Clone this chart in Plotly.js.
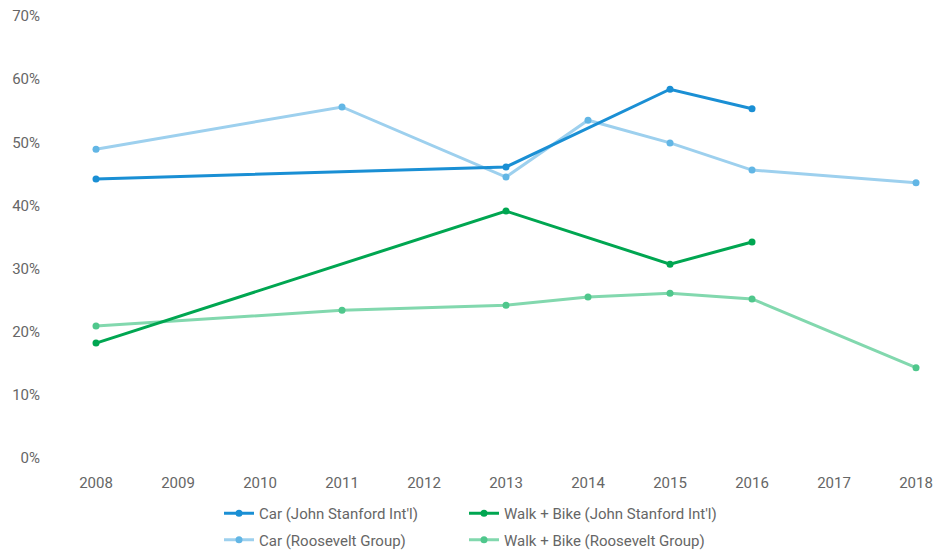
<!DOCTYPE html>
<html><head><meta charset="utf-8">
<script src="https://cdn.plot.ly/plotly-3.0.1.min.js"></script>
<style>body{margin:0;background:#fff}#chart{width:948px;height:550px}</style>
</head><body><div id="chart"></div>
<script>
const carJsiYears = [2008, 2013, 2015, 2016];
const carJsiVals = [44.2, 46.1, 58.4, 55.3];
const walkJsiYears = [2008, 2013, 2015, 2016];
const walkJsiVals = [18.2, 39.1, 30.7, 34.2];
const carRgYears = [2008, 2011, 2013, 2014, 2015, 2016, 2018];
const carRgVals = [48.9, 55.6, 44.5, 53.5, 49.9, 45.6, 43.6];
const walkRgYears = [2008, 2011, 2013, 2014, 2015, 2016, 2018];
const walkRgVals = [20.9, 23.4, 24.2, 25.5, 26.1, 25.2, 14.3];
const tickYears = [2008,2009,2010,2011,2012,2013,2014,2015,2016,2017,2018];
const yTicks = [0,10,20,30,40,50,60,70];

function tr(x, y, name, color, mcolor, leg, grp, z){
  return {x:x, y:y, name:name, type:'scatter', mode:'lines+markers',
    line:{color:color, width:3}, marker:{color:mcolor, size:7},
    legend:leg, legendgroup:grp, zorder:z, hoverinfo:'skip'};
}
const data = [
  tr(carJsiYears, carJsiVals, "Car (John Stanford Int'l)", '#1a8fd4', '#1a8fd4', 'legend', 'a', 1),
  tr(walkJsiYears, walkJsiVals, "Walk + Bike (John Stanford Int'l)", '#00a651', '#00a651', 'legend2', 'c', 1),
  tr(carRgYears, carRgVals, 'Car (Roosevelt Group)', '#9dd0ee', '#62b6e5', 'legend', 'b', 0),
  tr(walkRgYears, walkRgVals, 'Walk + Bike (Roosevelt Group)', '#82d8ae', '#4fc78c', 'legend2', 'd', 0),
];
const legBase = {orientation:'v', xref:'paper', yref:'paper', yanchor:'top', xanchor:'left',
  traceorder:'grouped', tracegroupgap:4, font:{size:15, color:'#666'},
  bgcolor:'rgba(0,0,0,0)', itemwidth:30, y:-(497-458)/442};
const layout = {
  width:948, height:550,
  margin:{l:55, r:0, t:16, b:92, autoexpand:false},
  paper_bgcolor:'#fff', plot_bgcolor:'#fff',
  font:{family:'Roboto, "DejaVu Sans", sans-serif', size:14, color:'#666'},
  showlegend:true,
  xaxis:{range:[2007.5, 2018.39], tickvals:tickYears, ticktext:tickYears.map(String),
    showgrid:false, zeroline:false, showline:true, linecolor:'#777', linewidth:2,
    ticks:'', ticklabelstandoff:10, fixedrange:true, automargin:false, tickfont:{size:15,color:'#666'}},
  yaxis:{range:[0,70], tickvals:yTicks, ticktext:yTicks.map(v=>v+'%'),
    showgrid:false, zeroline:false, showline:false, ticks:'', ticklabelstandoff:14,
    fixedrange:true, automargin:false, tickfont:{size:15,color:'#666'}},
  legend:Object.assign({}, legBase, {x:(219-55)/893}),
  legend2:Object.assign({}, legBase, {x:(464-55)/893}),
};
Plotly.newPlot('chart', data, layout, {displayModeBar:false, staticPlot:true});
</script></body></html>
